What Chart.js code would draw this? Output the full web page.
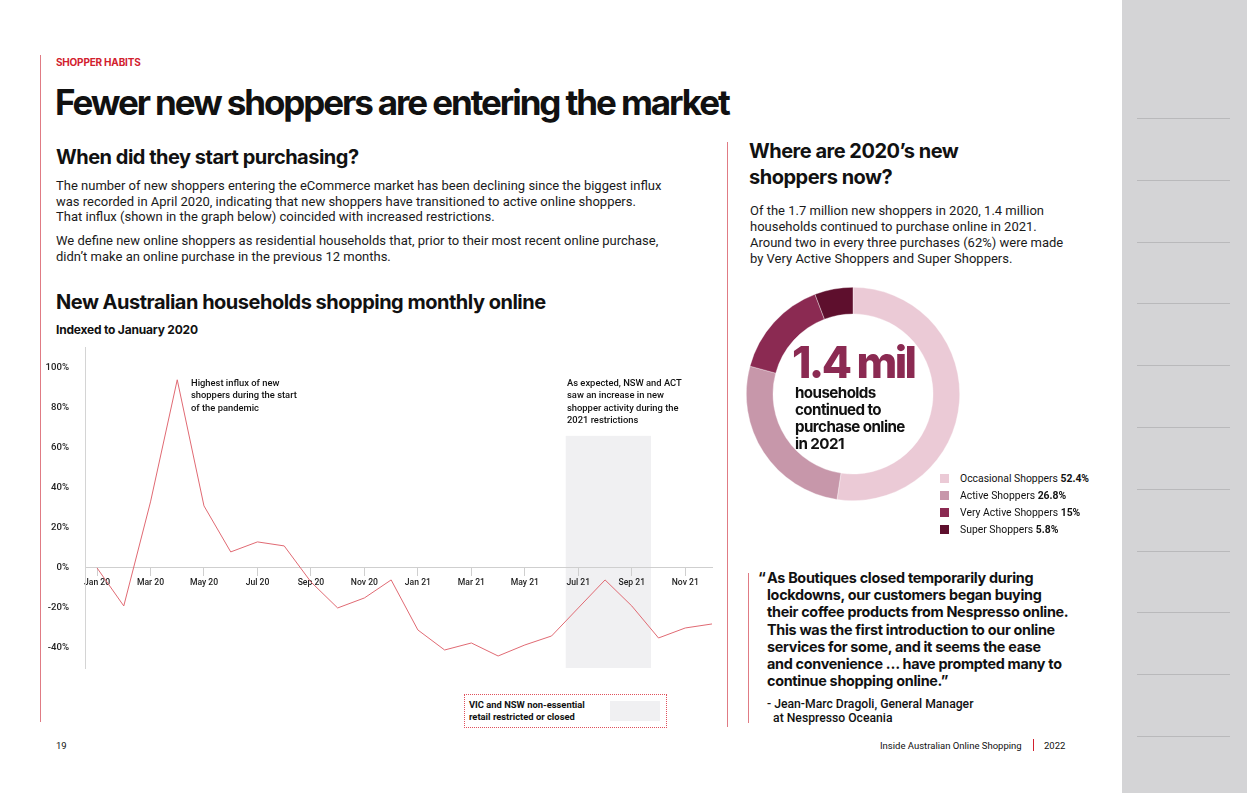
<!DOCTYPE html>
<html>
<head>
<meta charset="utf-8">
<script src="https://cdn.jsdelivr.net/npm/chart.js@4.4.1/dist/chart.umd.min.js"></script>
<style>
  html, body { margin: 0; padding: 0; }
  body { width: 1247px; height: 793px; position: relative; overflow: hidden; background: #fff;
         font-family: Inter, "Noto Sans", sans-serif; color: #111; }
  .abs { position: absolute; white-space: nowrap; }
  .h2 { font-size: 20px; font-weight: 700; letter-spacing: -0.5px; line-height: 24px; }
  .p { font-family: Roboto, sans-serif; font-size: 13px; line-height: 15.6px; color: #1a1a1a; }
  .note { font-family: Roboto, sans-serif; font-size: 9.4px; font-weight: 500; line-height: 12.3px; color: #111; }
  .vline { position: absolute; width: 1px; background: #e07b84; }
  #sidebar { position: absolute; left: 1122px; top: 0; width: 125px; height: 793px; background: #d4d4d6; }
  #sidebar div { position: absolute; left: 15px; width: 93px; height: 1px; background: #b9b9bb; }
  #legend .row { position: absolute; left: 0; font-family: Roboto, sans-serif; font-size: 10.4px; white-space: nowrap; line-height: 12px; }
  #legend .sw { position: absolute; left: 0; top: 1px; width: 9px; height: 9px; }
  #legend .tx { position: absolute; left: 20px; top: 0; }
</style>
</head>
<body>
<div id="sidebar"></div>

<div class="vline" style="left:40px;top:55px;height:667px;"></div>
<div class="vline" style="left:727px;top:142px;height:585px;"></div>
<div class="vline" style="left:748px;top:573px;height:150px;"></div>

<div class="abs" style="left:56px;top:56px;font-size:10px;font-weight:700;color:#d2202e;line-height:12px;letter-spacing:-0.2px;">SHOPPER HABITS</div>
<div class="abs" style="left:55px;top:81px;font-size:35px;font-weight:700;letter-spacing:-2.1px;line-height:42px;">Fewer new shoppers are entering the market</div>

<div class="abs h2" style="left:56px;top:145px;">When did they start purchasing?</div>
<div class="abs p" style="left:56px;top:178px;">The number of new shoppers entering the eCommerce market has been declining since the biggest influx<br>was recorded in April 2020, indicating that new shoppers have transitioned to active online shoppers.<br>That influx (shown in the graph below) coincided with increased restrictions.</div>
<div class="abs p" style="left:56px;top:233px;">We define new online shoppers as residential households that, prior to their most recent online purchase,<br>didn’t make an online purchase in the previous 12 months.</div>

<div class="abs h2" style="left:56px;top:290px;">New Australian households shopping monthly online</div>
<div class="abs" style="left:56px;top:323px;font-size:12px;font-weight:700;line-height:14px;letter-spacing:-0.2px;">Indexed to January 2020</div>

<div style="position:absolute;left:40px;top:334px;width:690px;height:348px;"><canvas id="lineChart"></canvas></div>

<div class="abs note" style="left:191px;top:377px;">Highest influx of new<br>shoppers during the start<br>of the pandemic</div>
<div class="abs note" style="left:567px;top:377px;">As expected, NSW and ACT<br>saw an increase in new<br>shopper activity during the<br>2021 restrictions</div>

<div style="position:absolute;left:464px;top:694px;width:203px;height:34px;border:1px dotted #e0505c;box-sizing:border-box;"></div>
<div class="abs note" style="left:469px;top:699px;font-weight:700;">VIC and NSW non-essential<br>retail restricted or closed</div>
<div style="position:absolute;left:610px;top:701px;width:50px;height:20px;background:#f0f0f2;"></div>

<div class="abs h2" style="left:749px;top:138px;line-height:26px;">Where are 2020’s new<br>shoppers now?</div>
<div class="abs p" style="left:750px;top:203px;line-height:16px;">Of the 1.7 million new shoppers in 2020, 1.4 million<br>households continued to purchase online in 2021.<br>Around two in every three purchases (62%) were made<br>by Very Active Shoppers and Super Shoppers.</div>

<div style="position:absolute;left:746px;top:287px;width:214px;height:214px;"><canvas id="donutChart"></canvas></div>
<div class="abs" style="left:792px;top:337px;font-size:44px;font-weight:800;letter-spacing:-2.6px;line-height:50px;color:#8b2a52;">1.4 mil</div>
<div class="abs" style="left:795px;top:384px;font-size:15.2px;font-weight:700;letter-spacing:-0.6px;line-height:17px;">households<br>continued to<br>purchase online<br>in 2021</div>
<div id="legend" style="position:absolute;left:940px;top:473px;"></div>

<div class="abs" style="left:758px;top:569px;font-size:14.4px;font-weight:700;line-height:17.2px;letter-spacing:-0.3px;">“</div>
<div class="abs" style="left:767px;top:569px;font-size:14.4px;font-weight:700;line-height:17.2px;letter-spacing:-0.3px;">As Boutiques closed temporarily during<br>lockdowns, our customers began buying<br>their coffee products from Nespresso online.<br>This was the first introduction to our online<br>services for some, and it seems the ease<br>and convenience … have prompted many to<br>continue shopping online.”</div>
<div class="abs" style="left:767px;top:697px;font-family:Roboto,sans-serif;font-size:12.2px;font-weight:500;line-height:14px;">- Jean-Marc Dragoli, General Manager<br>&nbsp;&nbsp;at Nespresso Oceania</div>

<div class="abs" style="left:56px;top:740px;font-family:Roboto,sans-serif;font-size:9.5px;line-height:12px;">19</div>
<div class="abs" style="left:880px;top:740px;font-family:Roboto,sans-serif;font-size:9.5px;line-height:12px;">Inside Australian Online Shopping</div>
<div class="vline" style="left:1033px;top:739px;height:12px;background:#d2202e;"></div>
<div class="abs" style="left:1044px;top:740px;font-family:Roboto,sans-serif;font-size:9.5px;line-height:12px;">2022</div>

<script>
// monthly index, Jan 2020 = 0%
const months = ['Jan 20','Feb 20','Mar 20','Apr 20','May 20','Jun 20','Jul 20','Aug 20','Sep 20','Oct 20','Nov 20','Dec 20',
                'Jan 21','Feb 21','Mar 21','Apr 21','May 21','Jun 21','Jul 21','Aug 21','Sep 21','Oct 21','Nov 21','Dec 21'];
const newShoppers = [0, -19, 33, 94, 31, 8, 13, 11, -7, -20, -15, -6,
                     -31, -41, -37.5, -44, -38.5, -34, -20, -6, -19, -35, -30, -28];
const yTicks = [-40, -20, 0, 20, 40, 60, 80, 100];
const xTickMonths = [0, 2, 4, 6, 8, 10, 12, 14, 16, 18, 20, 22];
// VIC / NSW restriction period (month index) and height of the band
const restrictFrom = 17.53, restrictTo = 20.72, restrictTop = 66;

const segLabels = ['Occasional Shoppers', 'Active Shoppers', 'Very Active Shoppers', 'Super Shoppers'];
const segValues = [52.4, 26.8, 15, 5.8];
const segText = ['52.4%', '26.8%', '15%', '5.8%'];
const segColors = ['#ebcad6', '#c797aa', '#8b2a52', '#5e0f2d'];

const bandPlugin = {
  id: 'band',
  beforeDraw(chart) {
    const {ctx, scales: {x, y}} = chart;
    const l = x.getPixelForValue(restrictFrom), r = x.getPixelForValue(restrictTo);
    const t = y.getPixelForValue(restrictTop), b = y.getPixelForValue(y.min);
    ctx.save();
    ctx.fillStyle = '#f0f0f2';
    ctx.fillRect(l, t, r - l, b - t);
    ctx.restore();
  }
};

new Chart(document.getElementById('lineChart'), {
  type: 'line',
  data: {
    datasets: [{
      data: newShoppers.map((v, i) => ({x: i, y: v})),
      borderColor: '#e06a73',
      borderWidth: 1,
      pointRadius: 0,
      tension: 0
    }]
  },
  options: {
    responsive: true,
    maintainAspectRatio: false,
    animation: false,
    layout: {padding: {top: 6, right: 18, bottom: 14, left: 0}},
    plugins: {legend: {display: false}, tooltip: {enabled: false}},
    scales: {
      x: {
        type: 'linear',
        position: {y: 0},
        min: -0.45, max: 23,
        afterBuildTicks: s => { s.ticks = xTickMonths.map(v => ({value: v})); },
        afterFit: s => { s.height = 0; },
        grid: {drawOnChartArea: false, drawTicks: true, tickLength: 8, color: '#cfcfcf'},
        border: {color: '#cfcfcf'},
        ticks: {
          callback: v => months[v],
          maxRotation: 0, padding: 2,
          color: '#222',
          font: {family: 'Roboto', size: 8.6, weight: '500'}
        }
      },
      y: {
        min: -50, max: 110,
        afterBuildTicks: s => { s.ticks = yTicks.map(v => ({value: v})); },
        afterFit: s => { s.width = 45; },
        grid: {display: false},
        border: {color: '#d4d4d4'},
        ticks: {
          callback: v => v + '%',
          padding: 8,
          color: '#222',
          font: {family: 'Roboto', size: 9.6, weight: '500'}
        }
      }
    }
  },
  plugins: [bandPlugin]
});

new Chart(document.getElementById('donutChart'), {
  type: 'doughnut',
  data: {
    labels: segLabels,
    datasets: [{
      data: segValues,
      backgroundColor: segColors,
      borderColor: 'rgba(255,255,255,0.6)',
      borderWidth: 0.6
    }]
  },
  options: {
    responsive: true,
    maintainAspectRatio: false,
    animation: false,
    cutout: '75%',
    plugins: {legend: {display: false}, tooltip: {enabled: false}}
  }
});

const legend = document.getElementById('legend');
segLabels.forEach((lab, i) => {
  const row = document.createElement('div');
  row.className = 'row';
  row.style.top = (i * 17) + 'px';
  row.innerHTML = '<span class="sw" style="background:' + segColors[i] + '"></span>' +
                  '<span class="tx">' + lab + ' <b>' + segText[i] + '</b></span>';
  legend.appendChild(row);
});

const side = document.getElementById('sidebar');
for (let k = 0; k < 11; k++) {
  const d = document.createElement('div');
  d.style.top = (118 + k * 61.8) + 'px';
  side.appendChild(d);
}
</script>
</body>
</html>
